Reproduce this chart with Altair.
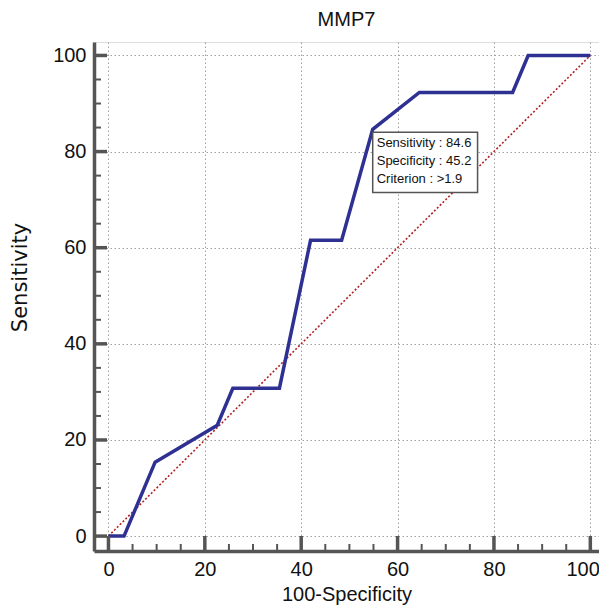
import altair as alt
import pandas as pd

# ROC curve points (100-Specificity, Sensitivity)
fpr = [0, 3.23, 9.68, 22.58, 25.81, 35.48, 41.94, 48.39, 54.84, 64.52, 83.87, 87.10, 100]
tpr = [0, 0, 15.38, 23.08, 30.77, 30.77, 61.54, 61.54, 84.62, 92.31, 92.31, 100, 100]

diag_x = [0, 100]
diag_y = [0, 100]

major_ticks = [0, 20, 40, 60, 80, 100]
minor_ticks = [v for v in range(0, 101, 5) if v % 20 != 0]

crit_x = 54.84
crit_y = 84.62
box_x2 = 76.6
box_y2 = 71.5
box_y1 = 84.0
annot_text = "Sensitivity : 84.6\nSpecificity : 45.2\nCriterion : >1.9"

W, H = 505, 509
FONT = "Liberation Sans, Arial"

roc_df = pd.DataFrame({"x": fpr, "y": tpr, "o": list(range(len(fpr)))})
diag_df = pd.DataFrame({"x": diag_x, "y": diag_y})
major_df = pd.DataFrame({"v": major_ticks})
minor_df = pd.DataFrame({"v": minor_ticks})
box_df = pd.DataFrame({"x": [crit_x], "x2": [box_x2], "y": [box_y1], "y2": [box_y2]})
text_df = pd.DataFrame({"x": [crit_x], "y": [crit_y], "t": [annot_text]})

xs = alt.Scale(domain=[-3, 101.8], nice=False, zero=False)
ys = alt.Scale(domain=[-3.1, 102.8], nice=False, zero=False)

axis_common = dict(
    values=major_ticks,
    ticks=False,
    domainColor="#555555",
    domainWidth=3.5,
    gridColor="#a0a0a0",
    gridDash=[1.5, 2.5],
    gridWidth=1,
    labelFont=FONT,
    labelFontSize=20,
    labelColor="#111111",
    titleFontWeight="normal",
    titleColor="#111111",
)

x_axis = alt.Axis(title="100-Specificity", labelPadding=8, titlePadding=5,
                  titleFont=FONT, titleFontSize=20, labelOverlap=False,
                  labelFlush=10, labelFlushOffset=9, **axis_common)
y_axis = alt.Axis(title="Sensitivity", labelPadding=8,
                  titleFont="DejaVu Sans", titleFontSize=21,
                  titleY=235, titleX=-68, titleBaseline="alphabetic", **axis_common)

base_axes = alt.Chart(diag_df).mark_point(opacity=0).encode(
    x=alt.X("x:Q", scale=xs, axis=x_axis),
    y=alt.Y("y:Q", scale=ys, axis=y_axis),
)

diag = alt.Chart(diag_df).mark_line(color="#b22222", strokeDash=[2, 2], strokeWidth=1.6).encode(
    x=alt.X("x:Q", scale=xs), y=alt.Y("y:Q", scale=ys)
)

roc = alt.Chart(roc_df).mark_line(color="#2e3192", strokeWidth=3.5, strokeJoin="miter").encode(
    x=alt.X("x:Q", scale=xs), y=alt.Y("y:Q", scale=ys), order="o:Q"
)

x_major = alt.Chart(major_df).mark_rule(color="#555555", strokeWidth=3.5).encode(
    x=alt.X("v:Q", scale=xs), y=alt.value(H), y2=alt.value(H - 15)
)
x_minor = alt.Chart(minor_df).mark_rule(color="#555555", strokeWidth=2).encode(
    x=alt.X("v:Q", scale=xs), y=alt.value(H), y2=alt.value(H - 7)
)
y_major = alt.Chart(major_df).mark_rule(color="#555555", strokeWidth=3.5).encode(
    y=alt.Y("v:Q", scale=ys), x=alt.value(0), x2=alt.value(13)
)
y_minor = alt.Chart(minor_df).mark_rule(color="#555555", strokeWidth=2).encode(
    y=alt.Y("v:Q", scale=ys), x=alt.value(0), x2=alt.value(7)
)

box = alt.Chart(box_df).mark_rect(fill="white", stroke="#555555", strokeWidth=1.5).encode(
    x=alt.X("x:Q", scale=xs), x2="x2:Q", y=alt.Y("y:Q", scale=ys), y2="y2:Q"
)
text = alt.Chart(text_df).mark_text(
    align="left", baseline="top", dx=4, dy=8, lineBreak="\n", lineHeight=18,
    font=FONT, fontSize=13, color="#111111"
).encode(x=alt.X("x:Q", scale=xs), y=alt.Y("y:Q", scale=ys), text="t:N")

chart = alt.layer(base_axes, diag, roc, x_major, x_minor, y_major, y_minor, box, text).properties(
    width=W, height=H,
    title=alt.TitleParams("MMP7", font=FONT, fontSize=20, fontWeight="normal", color="#111111",
                          anchor="middle", offset=12),
    autosize=alt.AutoSizeParams(type="none"),
    padding={"left": 86, "top": 34, "right": 0, "bottom": 54},
).configure_view(stroke=None).configure(background="white")

chart.save("out.html", embed_options={"renderer": "svg", "actions": False})
